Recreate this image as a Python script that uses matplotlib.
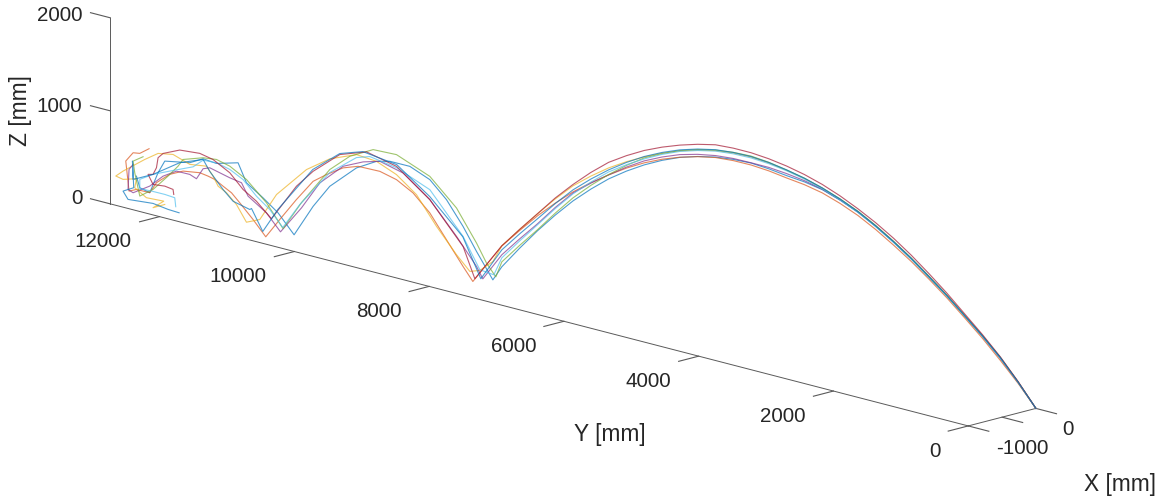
import numpy as np
import matplotlib
matplotlib.use('Agg')
import matplotlib.pyplot as plt
from matplotlib.transforms import Affine2D
from mpl_toolkits.mplot3d import proj3d

plt.rcParams['font.family'] = ['Liberation Sans', 'DejaVu Sans']

# ---- data (mm) ----
y_arc1 = [0, 250, 500, 750, 1000, 1250, 1500, 1750, 2000, 2250, 2500, 2750, 3000, 3250, 3500, 3750, 4000,
          4250, 4500, 4750, 5000, 5250, 5500, 5750, 6000, 6250, 6500, 6750, 7000, 7250, 7500]

y_blue1 = y_arc1 + [7626, 7855, 8044, 8277, 8511, 8792, 9073, 9260, 9541, 9916, 10150, 10417,
                    10642, 10853, 11086, 11204, 11507, 11695, 11882, 12233, 12327, 12444, 12584, 12631]
z_blue1 = [0, 235, 449, 642, 818, 989, 1144, 1297, 1435, 1559, 1667, 1752, 1821, 1860, 1883, 1912, 1930,
           1925, 1906, 1868, 1814, 1738, 1645, 1534, 1406, 1252, 1081, 884, 671, 440, 196,
           33, 298, 533, 780, 954, 1047, 1052, 1018, 898, 634, 377, 24,
           220, 344, 465, 659, 598, 615, 540, 495, 354, 118, 147, 263]

y_orange = y_arc1 + [7907, 8044, 8277, 8511, 8746, 8979, 9213, 9518, 9729, 9962, 10150, 10384, 10618, 10815,
                     10993, 11180, 11296, 11414, 11531, 11625, 11742, 11976, 12163, 12350, 12444, 12631,
                     12735, 12763, 12781, 12678, 12584, 12454]
z_orange = [0, 225, 428, 620, 796, 967, 1123, 1270, 1402, 1525, 1632, 1717, 1786, 1830, 1858, 1890, 1909,
            1912, 1901, 1866, 1816, 1750, 1667, 1566, 1449, 1321, 1178, 1013, 832, 630, 421,
            -34, 103, 349, 596, 769, 871, 919, 919, 865, 752, 646, 409, 153, -68,
            86, 233, 320, 370, 422, 441, 457, 433, 365, 242, 118, 120,
            84, 277, 399, 506, 516, 589]

y_yellow = y_arc1 + [7626, 7809, 7949, 8136, 8417, 8698, 8979, 9260, 9541, 9916, 10243, 10664, 10899, 11086,
                     11226, 11366, 11484, 11555, 11647, 11882, 12117, 12327, 12514, 12819, 12921, 12819,
                     12631, 12655, 12491, 12247, 12398, 12233]
z_yellow = [0, 238, 455, 643, 815, 988, 1145, 1299, 1438, 1563, 1672, 1763, 1838, 1897, 1940, 1975, 1995,
            1993, 1975, 1937, 1884, 1815, 1731, 1635, 1524, 1392, 1243, 1058, 854, 642, 421,
            230, 102, 67, 213, 468, 759, 925, 1018, 1041, 929, 756, 413, 103, 41,
            206, 308, 358, 453, 544, 522, 587, 561, 463, 284, 213, 195,
            235, 134, 56, 62, -35, 29]

y_purple = y_arc1 + [7767, 7855, 8136, 8511, 8886, 9213, 9448, 9729, 10056, 10313, 10608,
                     10805, 11063, 11156, 11320, 11601, 11695, 11788, 11882, 12069, 12257, 12444, 12678,
                     12749, 12735, 12678]
z_purple = [0, 238, 455, 645, 820, 993, 1150, 1302, 1438, 1562, 1670, 1756, 1825, 1873, 1905, 1927, 1933,
            1935, 1922, 1891, 1844, 1774, 1688, 1577, 1449, 1316, 1167, 966, 746, 540, 325,
            19, 137, 410, 739, 959, 1027, 979, 882, 646, 332, 22,
            191, 325, 453, 477, 535, 508, 384, 414, 416, 329, 189, 76,
            100, 317, 381]

y_green = y_arc1 + [7584, 7715, 7855, 8136, 8511, 8979, 9307, 9635, 9916, 10313, 10572,
                    10805, 11086, 11320, 11507, 11695, 11976, 12046, 12187, 12398, 12584, 12655, 12678, 12538]
z_green = [0, 240, 460, 649, 823, 997, 1155, 1307, 1444, 1569, 1678, 1765, 1837, 1898, 1943, 1982, 2005,
           2001, 1981, 1942, 1887, 1811, 1720, 1595, 1453, 1292, 1114, 905, 682, 470, 249,
           73, 198, 388, 715, 989, 1140, 1136, 1006, 814, 389, 63,
           299, 500, 602, 641, 626, 558, 474, 342, 161, 57, 296, 416, 488]

y_ltblue = y_arc1 + [7612, 7809, 8044, 8511, 8979, 9354, 9541, 9916, 10337, 10576,
                     10758, 10945, 11133, 11320, 11507, 11695, 11835, 12163, 12398, 12584, 12584, 12420,
                     12233, 12093, 12079]
z_ltblue = [0, 235, 450, 640, 815, 985, 1140, 1293, 1430, 1555, 1665, 1755, 1830, 1890, 1935, 1967, 1985,
            1985, 1970, 1932, 1878, 1802, 1709, 1603, 1481, 1327, 1157, 954, 735, 518, 292,
            90, 110, 426, 846, 1000, 1053, 1009, 782, 363, 74,
            235, 345, 491, 567, 605, 600, 504, 400, 323, 237, 137, 140, 137, 126, 32]

y_red = y_arc1 + [7879, 8044, 8511, 8979, 9400, 9775, 10150, 10384, 10735,
                  10945, 11133, 11320, 11555, 11742, 12023, 12257, 12327, 12350, 12398, 12468, 12398,
                  12233, 12117, 12107]
z_red = [0, 245, 466, 660, 839, 1018, 1182, 1337, 1476, 1598, 1704, 1798, 1877, 1939, 1986, 2020, 2041,
         2046, 2038, 1999, 1946, 1880, 1800, 1700, 1584, 1431, 1258, 1068, 854, 642, 421,
         0, 318, 739, 1014, 1095, 1000, 754, 552, 140,
         291, 384, 531, 632, 665, 651, 573, 515, 403, 323, 311, 215, 226, 211, 159]

y_blue2 = y_arc1 + [7795, 8048, 8511, 8975, 9452, 9775, 10155, 10646, 10857,
                    11015, 11039, 11274, 11414, 11601, 11695, 12023, 12398, 12678, 12687, 12669, 12819,
                    12749, 12398, 12187, 12032]
z_blue2 = [0, 239, 458, 646, 818, 992, 1150, 1303, 1440, 1565, 1675, 1765, 1840, 1900, 1945, 1980, 2000,
           2000, 1985, 1948, 1895, 1823, 1735, 1627, 1503, 1360, 1200, 1008, 800, 594, 378,
           15, 422, 771, 1033, 1089, 1011, 772, 255, -18,
           201, 186, 233, 334, 496, 608, 515, 323, 219, 415, 132, 69, -8, 11, -16, -25]

tracks_y = [y_blue1, y_orange, y_yellow, y_purple, y_green, y_ltblue, y_red, y_blue2]
tracks_z = [z_blue1, z_orange, z_yellow, z_purple, z_green, z_ltblue, z_red, z_blue2]
track_colors = ['#0072BD', '#D95319', '#EDB120', '#7E2F8E', '#77AC30', '#4DBEEE', '#A2142F', '#0072BD']
# one projection cannot separate X from Y: lateral position estimated as a steady drift
x_per_y = -0.113

x_ticks = [-2000, -1000, 0]
x_tick_labels = ['', '-1000', '0']
y_ticks = [0, 2000, 4000, 6000, 8000, 10000, 12000]
z_ticks = [0, 1000, 2000]
x_lim = (-2000, 0)
y_lim = (0, 12730)
z_lim = (0, 2000)

W, H = 1170, 504
INK = '#262626'
AXC = '#5a5a5a'

fig = plt.figure(figsize=(W / 100, H / 100), dpi=100)
hfrac = W / H
ax = fig.add_axes([0, (1 - hfrac) / 2, 1, hfrac], projection='3d', proj_type='ortho')
ax.view_init(elev=15, azim=225)
ax.set_xlim(*x_lim); ax.set_ylim(*y_lim); ax.set_zlim(*z_lim)
aspect = (95.7, 1213, 192.6)
ax.set_box_aspect(aspect, zoom=1.0)
ax.patch.set_alpha(0)
ax.grid(False)

for yy, zz, c in zip(tracks_y, tracks_z, track_colors):
    yy = np.asarray(yy, float)
    ax.plot(x_per_y * yy, yy, zz, color=c, lw=0.8, alpha=0.7, clip_on=False)

ax.set_xticks(x_ticks, x_tick_labels)
ax.set_yticks(y_ticks, [str(v) for v in y_ticks])
ax.set_zticks(z_ticks, [str(v) for v in z_ticks])
ax.zaxis.set_ticks_position('upper')
ax.zaxis._get_tickdir = lambda pos: 1
ax.tick_params(axis='both', labelsize=14.9, labelcolor=INK, color=AXC, width=0.7)
ax.tick_params(axis='z', labelsize=14.9, labelcolor=INK, color=AXC, width=0.7)
for axis, fac in ((ax.xaxis, -0.30), (ax.yaxis, -3.7), (ax.zaxis, 0.29)):
    axis.set_pane_color((1, 1, 1, 0))
    axis.pane.set_edgecolor((1, 1, 1, 0))
    axis.line.set_color(AXC)
    axis.line.set_linewidth(0.7)
    axis._axinfo['tick']['inward_factor'] = 0
    axis._axinfo['tick']['outward_factor'] = fac

# label nudges in pixels (right, up), per tick; Axis3D resets label transforms at
# every get_major_ticks call, so the nudged transform has to be made to stick
def nudge(axis, offsets, ha='right'):
    for tick, (dx, dy) in zip(axis.get_major_ticks(), offsets):
        tick.label1.set_ha(ha)
        tick.label1.set_va('center')
        tick.label1.set_transform(ax.transData + Affine2D().translate(dx, dy))
        tick.label1.set_transform = lambda t: None

nudge(ax.yaxis, [(-26, -20)] * len(y_ticks))
nudge(ax.zaxis, [(-4, 0), (-4, -1), (-4, -3)])
nudge(ax.xaxis, [(0, 0), (-2, -21), (10, -10)], ha='center')

# fit the projected box to the reference's axis corners
def disp(x, y, z):
    ax.apply_aspect()
    px, py, _ = proj3d.proj_transform(x, y, z, ax.get_proj())
    return ax.transData.transform((px, py))

a = disp(0, 0, 0)
b = disp(-2000, 12730, 0)
target_a = np.array([1036.0, H - 408.0])
target_b = np.array([110.3, H - 204.3])
ax.set_box_aspect(aspect, zoom=np.linalg.norm(target_a - target_b) / np.linalg.norm(a - b))
a = disp(0, 0, 0)
b = disp(-2000, 12730, 0)
shift = ((target_a + target_b) - (a + b)) / 2
p = ax.get_position(original=True)
ax.set_position([p.x0 + shift[0] / W, p.y0 + shift[1] / H, p.width, p.height])

fig.text(1120 / W, 1 - 485 / H, 'X [mm]', fontsize=16.4, color=INK, ha='center', va='center')
fig.text(610 / W, 1 - 435 / H, 'Y [mm]', fontsize=16.4, color=INK, ha='center', va='center')
fig.text(20 / W, 1 - 111 / H, 'Z [mm]', fontsize=16.4, color=INK, ha='center', va='center', rotation=90)

fig.savefig('out.png', dpi=100)
